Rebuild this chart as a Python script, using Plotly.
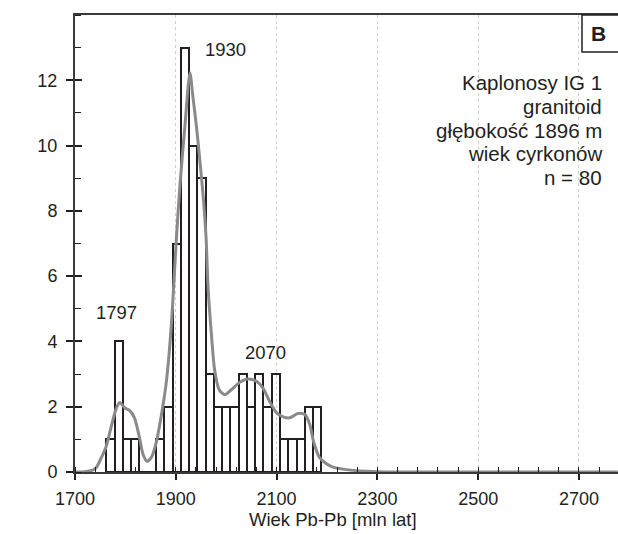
import plotly.graph_objects as go

# Histogram bins (bin centres, Ma) and counts
bin_centers = [1770.5, 1786.9, 1803.3, 1819.7, 1836.1, 1852.5, 1868.9, 1885.3,
               1901.7, 1918.1, 1934.5, 1950.9, 1967.3, 1983.7, 2000.1, 2016.5,
               2032.9, 2049.3, 2065.7, 2082.1, 2098.5, 2114.9, 2131.3, 2147.7,
               2164.1, 2180.5]
counts = [1, 4, 1, 1, 0, 0, 1, 2, 7, 13, 10, 9, 3, 2, 2, 2, 3, 2, 3, 2, 3,
          1, 1, 1, 2, 2]
bin_width = 16.4

# Probability density curve
curve_x = [1700, 1720, 1735, 1742, 1752, 1762, 1772, 1782, 1789, 1799, 1808,
           1818, 1828, 1835, 1843, 1852, 1861, 1871, 1881, 1891, 1898, 1901,
           1908, 1918, 1928, 1934, 1941, 1947, 1955, 1960, 1964, 1971, 1977,
           1986, 1997, 2010, 2027, 2043, 2060, 2073, 2086, 2100, 2113, 2126,
           2142, 2156, 2166, 2173, 2185, 2199, 2212, 2235, 2252, 2280, 2320,
           2777]
curve_y = [0.0, 0.01, 0.06, 0.13, 0.43, 0.79, 1.40, 1.96, 2.13, 1.96, 1.89,
           1.66, 1.05, 0.54, 0.33, 0.46, 0.89, 1.71, 2.73, 4.46, 6.29, 7.11,
           8.74, 10.58, 12.23, 11.49, 10.58, 9.66, 8.33, 7.2, 5.68, 4.15, 3.13,
           2.52, 2.37, 2.52, 2.75, 2.85, 2.78, 2.57, 2.17, 1.81, 1.69, 1.66,
           1.79, 1.76, 1.45, 0.95, 0.45, 0.25, 0.15, 0.08, 0.05, 0.02, 0.0,
           0.0]

peak_labels = ["1797", "1930", "2070"]
peak_label_x = [1782, 1998, 2077]
peak_label_y = [4.9, 12.95, 3.65]

info_lines = ["Kaplonosy IG 1", "granitoid", "głębokość 1896 m",
              "wiek cyrkonów", "n = 80"]

x_ticks = [1700, 1900, 2100, 2300, 2500, 2700]
y_ticks = [0, 2, 4, 6, 8, 10, 12]
x_range = [1700, 2777.4]
y_range = [0, 14]

DARK = "#231f20"
FONT = "Liberation Sans, Arial, sans-serif"

fig = go.Figure()
fig.add_trace(go.Bar(
    x=bin_centers, y=counts, width=bin_width,
    marker=dict(color="rgba(0,0,0,0)", line=dict(color=DARK, width=2)),
    showlegend=False, hoverinfo="x+y"))
fig.add_trace(go.Scatter(
    x=curve_x, y=curve_y, mode="lines",
    line=dict(color="#8a8a8a", width=3, shape="spline", smoothing=0.7),
    showlegend=False, hoverinfo="skip"))

fig.update_layout(
    width=618, height=534,
    margin=dict(l=75, r=0, t=15, b=62),
    paper_bgcolor="white", plot_bgcolor="white",
    font=dict(family=FONT, size=18, color=DARK),
    bargap=0,
    xaxis=dict(range=x_range, tickvals=x_ticks, ticks="outside", ticklen=6,
               tickwidth=1.5, tickcolor=DARK,
               showline=True, linecolor="#3a3a3a", linewidth=2, mirror=True,
               showgrid=True, gridcolor="#cfcfcf", griddash="dot", gridwidth=1,
               zeroline=False, ticklabelstandoff=3,
               tickfont=dict(size=18, color=DARK),
               minor=dict(dtick=40, tick0=1700, ticks="inside", ticklen=5,
                          tickwidth=1.2, tickcolor=DARK, showgrid=False)),
    yaxis=dict(range=y_range, tickvals=y_ticks, ticks="outside", ticklen=7,
               tickwidth=1.5, tickcolor=DARK,
               showline=True, linecolor="#3a3a3a", linewidth=2,
               showgrid=False, zeroline=False, ticklabelstandoff=5,
               tickfont=dict(size=18, color=DARK),
               minor=dict(dtick=1, tick0=0, ticks="inside", ticklen=6,
                          tickwidth=1.2, tickcolor=DARK)),
    yaxis2=dict(range=y_range, overlaying="y", side="left", tickvals=y_ticks,
                ticks="inside", ticklen=7, tickwidth=1.5, tickcolor=DARK,
                showticklabels=False, showline=False, showgrid=False,
                zeroline=False),
)

# peak labels
for t, px, py in zip(peak_labels, peak_label_x, peak_label_y):
    fig.add_annotation(x=px, y=py, text=t, showarrow=False,
                       font=dict(size=18.5, color=DARK), xanchor="center",
                       yanchor="middle")

# info text block
for i, line in enumerate(info_lines):
    fig.add_annotation(xref="paper", yref="paper", x=(604 - 75) / 543,
                       y=1 - (82.6 + 23.75 * i - 15) / 457, text=line,
                       showarrow=False, xanchor="right", yanchor="middle",
                       font=dict(size=20.5, color=DARK))

# panel letter box
fig.add_shape(type="rect", xref="paper", yref="paper",
              x0=(582 - 75) / 543, x1=1.02, y0=1 - (52 - 15) / 457, y1=1,
              line=dict(color=DARK, width=1.5), fillcolor="white")
fig.add_annotation(xref="paper", yref="paper", x=(598 - 75) / 543,
                   y=1 - (33.5 - 15) / 457, text="<b>B</b>", showarrow=False,
                   xanchor="center", yanchor="middle",
                   font=dict(size=21, color=DARK))

# x-axis title
fig.add_annotation(xref="paper", yref="paper", x=(333.3 - 75) / 543,
                   y=-(519.5 - 472) / 457, text="Wiek Pb-Pb [mln lat]",
                   showarrow=False, xanchor="center", yanchor="middle",
                   font=dict(size=18.5, color=DARK))

# dummy trace to activate yaxis2 ticks
fig.add_trace(go.Scatter(x=[None], y=[None], yaxis="y2", showlegend=False,
                         hoverinfo="skip"))

fig.write_html("out.html")
